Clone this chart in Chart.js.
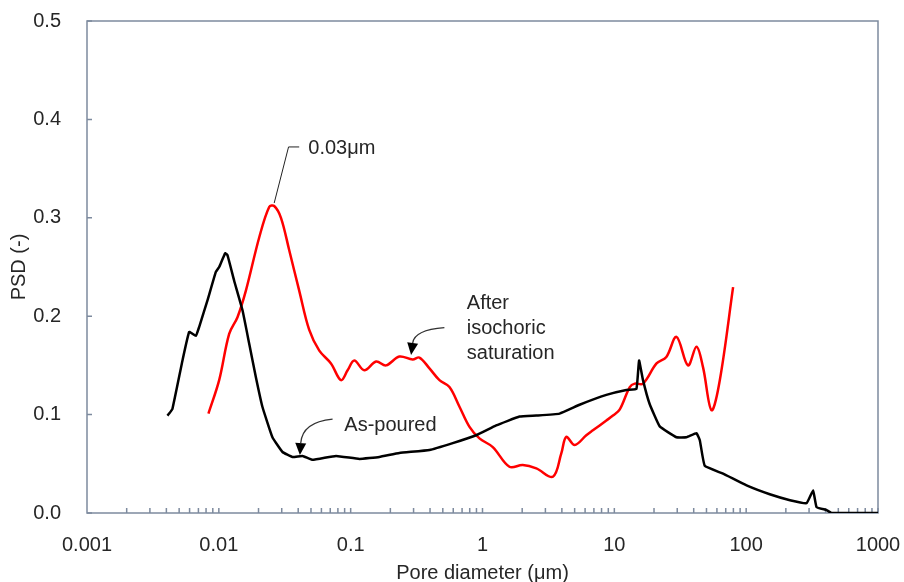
<!DOCTYPE html>
<html>
<head>
<meta charset="utf-8">
<script src="https://cdn.jsdelivr.net/npm/chart.js@4.4.0/dist/chart.umd.min.js"></script>
<style>
  html, body { margin: 0; padding: 0; background: #fff; }
</style>
</head>
<body>
<canvas id="psd" width="904" height="582"></canvas>
<script>
// -----------------------------
// Data
// -----------------------------
const asPouredD = [0.00407, 0.0042, 0.00445, 0.0053, 0.00596, 0.00669, 0.00709, 0.0082, 0.00949, 0.01006,
  0.01117, 0.01163, 0.01307, 0.01512, 0.017, 0.0191, 0.0214, 0.0255, 0.0304, 0.0362,
  0.0432, 0.0514, 0.0774, 0.1164, 0.165, 0.234, 0.396, 0.595, 0.895, 1.27,
  1.91, 2.56, 3.84, 5.45, 8.7, 12.34, 14.7, 15.4, 16.5, 18.5,
  22.1, 29.6, 35.2, 42.0, 44.5, 48.5, 66.8, 100.7, 151, 215,
  287, 322, 342, 407, 445, 1000];
const asPouredPSD = [0.099, 0.101, 0.106, 0.155, 0.184, 0.180, 0.189, 0.216, 0.245, 0.250,
  0.264, 0.262, 0.236, 0.206, 0.172, 0.138, 0.108, 0.077, 0.062, 0.057,
  0.058, 0.054, 0.058, 0.055, 0.057, 0.061, 0.064, 0.071, 0.079, 0.089,
  0.098, 0.099, 0.101, 0.110, 0.120, 0.125, 0.126, 0.155, 0.135, 0.111,
  0.088, 0.077, 0.077, 0.081, 0.074, 0.048, 0.040, 0.028, 0.019, 0.013,
  0.010, 0.023, 0.006, 0.003, 0.0, 0.0];

const saturatedD = [0.00834, 0.01006, 0.01198, 0.01385, 0.01604, 0.02024, 0.0241, 0.0263, 0.0296, 0.0342,
  0.0407, 0.0485, 0.0578, 0.0709, 0.0845, 0.0948, 0.1066, 0.127, 0.156, 0.1856,
  0.234, 0.2955, 0.332, 0.396, 0.4715, 0.5615, 0.669, 0.797, 0.948, 1.197,
  1.6, 2.02, 2.56, 3.42, 3.96, 4.32, 5.0, 6.13, 6.88, 8.7,
  9.76, 10.97, 13.1, 14.3, 16.5, 20.9, 24.8, 29.6, 36.2, 42.0,
  47.1, 54.6, 63.1, 79.6];
const saturatedPSD = [0.101, 0.135, 0.182, 0.199, 0.226, 0.280, 0.311, 0.312, 0.300, 0.267,
  0.226, 0.186, 0.165, 0.152, 0.135, 0.145, 0.155, 0.145, 0.154, 0.150,
  0.159, 0.156, 0.158, 0.147, 0.135, 0.128, 0.108, 0.0875, 0.0758, 0.067,
  0.047, 0.0487, 0.0453, 0.0368, 0.0605, 0.0774, 0.069, 0.079, 0.084, 0.094,
  0.099, 0.105, 0.128, 0.1315, 0.1315, 0.152, 0.1585, 0.179, 0.150, 0.169,
  0.148, 0.1045, 0.135, 0.2295];

const xTickValues = [0.001, 0.01, 0.1, 1, 10, 100, 1000];
const xTickLabels = ["0.001", "0.01", "0.1", "1", "10", "100", "1000"];
const yTicks = [0, 0.1, 0.2, 0.3, 0.4, 0.5];

const axisColor = "#7d8a9e";
const textColor = "#262626";
const fontFamily = "'Liberation Sans', Arial, sans-serif";

// -----------------------------
// Call-outs (data coordinates)
// -----------------------------
const peakNote = { text: "0.03\u03bcm", at: [0.0477, 0.370], corner: [0.0338, 0.372], barEnd: [0.0407, 0.372], tip: [0.0263, 0.315] };
const poredNote = { lines: ["As-poured"], at: [0.0895, 0.0894], from: [0.0729, 0.0955], ctrl: [0.0429, 0.0925], tip: [0.0412, 0.0589] };
const satNote = { lines: ["After", "isochoric", "saturation"], at: [0.76, 0.2134], from: [0.514, 0.1883], ctrl: [0.3045, 0.186], tip: [0.2873, 0.1606] };

function toPoints(xs, ys) {
  return xs.map((v, i) => ({ x: v, y: ys[i] }));
}

// frame + inner tick marks
const framePlugin = {
  id: "frame",
  beforeDatasetsDraw(chart) {
    const { ctx, chartArea: a, scales: { x, y } } = chart;
    ctx.save();
    ctx.strokeStyle = axisColor;
    ctx.lineWidth = 1.5;
    ctx.strokeRect(a.left, a.top, a.right - a.left, a.bottom - a.top);
    ctx.beginPath();
    for (let e = -3; e < 3; e++) {
      for (let m = 2; m <= 10; m++) {
        const px = x.getPixelForValue(m * Math.pow(10, e));
        ctx.moveTo(px, a.bottom);
        ctx.lineTo(px, a.bottom - 5);
      }
    }
    yTicks.forEach(v => {
      const py = y.getPixelForValue(v);
      ctx.moveTo(a.left, py);
      ctx.lineTo(a.left + 5, py);
    });
    ctx.stroke();
    ctx.restore();
  }
};

function arrow(ctx, x, y, note) {
  const sx = x.getPixelForValue(note.from[0]), sy = y.getPixelForValue(note.from[1]);
  const cx = x.getPixelForValue(note.ctrl[0]), cy = y.getPixelForValue(note.ctrl[1]);
  const tx = x.getPixelForValue(note.tip[0]), ty = y.getPixelForValue(note.tip[1]);
  const ang = Math.atan2(ty - cy, tx - cx);
  const len = 12, half = 5.5;
  const bx = tx - len * Math.cos(ang), by = ty - len * Math.sin(ang);
  ctx.beginPath();
  ctx.moveTo(sx, sy);
  ctx.quadraticCurveTo(cx, cy, bx, by);
  ctx.stroke();
  ctx.beginPath();
  ctx.moveTo(tx, ty);
  ctx.lineTo(bx + half * Math.sin(ang), by - half * Math.cos(ang));
  ctx.lineTo(bx - half * Math.sin(ang), by + half * Math.cos(ang));
  ctx.closePath();
  ctx.fill();
}

const notesPlugin = {
  id: "notes",
  afterDraw(chart) {
    const { ctx, scales: { x, y } } = chart;
    ctx.save();
    ctx.font = "20px " + fontFamily;
    ctx.fillStyle = textColor;
    ctx.textBaseline = "middle";
    ctx.textAlign = "left";

    // 0.03um leader
    ctx.strokeStyle = "#222";
    ctx.lineWidth = 1;
    ctx.beginPath();
    ctx.moveTo(x.getPixelForValue(peakNote.barEnd[0]), y.getPixelForValue(peakNote.barEnd[1]));
    ctx.lineTo(x.getPixelForValue(peakNote.corner[0]), y.getPixelForValue(peakNote.corner[1]));
    ctx.lineTo(x.getPixelForValue(peakNote.tip[0]), y.getPixelForValue(peakNote.tip[1]));
    ctx.stroke();
    ctx.fillText(peakNote.text, x.getPixelForValue(peakNote.at[0]), y.getPixelForValue(peakNote.at[1]));

    // arrows with labels
    ctx.strokeStyle = "#333";
    ctx.fillStyle = "#000";
    ctx.lineWidth = 1.3;
    arrow(ctx, x, y, poredNote);
    arrow(ctx, x, y, satNote);

    ctx.fillStyle = textColor;
    [poredNote, satNote].forEach(n => {
      const lx = x.getPixelForValue(n.at[0]);
      const ly = y.getPixelForValue(n.at[1]);
      n.lines.forEach((t, i) => ctx.fillText(t, lx, ly + i * 25));
    });
    ctx.restore();
  }
};

new Chart(document.getElementById("psd"), {
  type: "scatter",
  data: {
    datasets: [
      {
        label: "As-poured",
        data: toPoints(asPouredD, asPouredPSD),
        showLine: true,
        borderColor: "#000",
        borderWidth: 2.5,
        pointRadius: 0,
        tension: 0.1
      },
      {
        label: "After isochoric saturation",
        data: toPoints(saturatedD, saturatedPSD),
        showLine: true,
        borderColor: "#ff0000",
        borderWidth: 2.5,
        pointRadius: 0,
        tension: 0.35
      }
    ]
  },
  options: {
    responsive: false,
    animation: false,
    layout: { padding: { top: 21, right: 26, left: 0, bottom: 0 } },
    plugins: { legend: { display: false }, tooltip: { enabled: false } },
    scales: {
      x: {
        type: "logarithmic",
        min: 0.001,
        max: 1000,
        afterBuildTicks: s => { s.ticks = xTickValues.map(v => ({ value: v, major: true })); },
        afterFit: s => { s.height = 69; s.paddingLeft = 0; s.paddingRight = 0; },
        grid: { display: false },
        border: { display: false },
        ticks: {
          autoSkip: false,
          maxRotation: 0,
          padding: 12,
          color: textColor,
          font: { family: fontFamily, size: 20 },
          callback: (v, i) => xTickLabels[i]
        },
        title: {
          display: true,
          text: "Pore diameter (\u03bcm)",
          color: textColor,
          font: { family: fontFamily, size: 20 },
          padding: { top: 0, bottom: -3 }
        }
      },
      y: {
        min: 0,
        max: 0.5,
        afterFit: s => { s.width = 87; s.paddingTop = 0; s.paddingBottom = 0; },
        grid: { display: false },
        border: { display: false },
        ticks: {
          stepSize: 0.1,
          padding: 18,
          color: textColor,
          font: { family: fontFamily, size: 20 },
          callback: v => v.toFixed(1)
        },
        title: {
          display: true,
          text: "PSD (-)",
          color: textColor,
          font: { family: fontFamily, size: 20 },
          padding: { top: 7, bottom: 0 }
        }
      }
    }
  },
  plugins: [framePlugin, notesPlugin]
});
</script>
</body>
</html>
